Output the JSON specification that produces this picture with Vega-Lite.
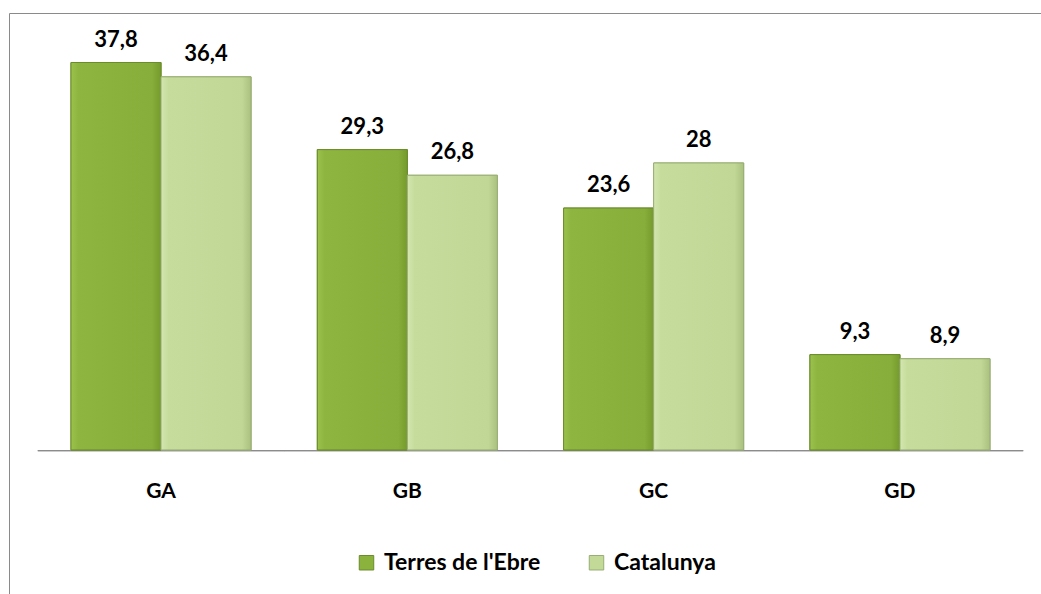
{
  "$schema": "https://vega.github.io/schema/vega-lite/v6.json",
  "autosize": "none",
  "padding": {"left": 9, "top": 13, "right": 0, "bottom": 0},
  "width": 1043,
  "height": 607,
  "background": "white",
  "config": {
    "view": {"stroke": "#8a8a8a", "strokeWidth": 1},
    "font": "Lato"
  },
  "data": {
    "values": [
      {"grup": "GA", "serie": "Terres de l'Ebre", "valor": 37.8, "etiqueta": "37,8"},
      {"grup": "GA", "serie": "Catalunya", "valor": 36.4, "etiqueta": "36,4"},
      {"grup": "GB", "serie": "Terres de l'Ebre", "valor": 29.3, "etiqueta": "29,3"},
      {"grup": "GB", "serie": "Catalunya", "valor": 26.8, "etiqueta": "26,8"},
      {"grup": "GC", "serie": "Terres de l'Ebre", "valor": 23.6, "etiqueta": "23,6"},
      {"grup": "GC", "serie": "Catalunya", "valor": 28, "etiqueta": "28"},
      {"grup": "GD", "serie": "Terres de l'Ebre", "valor": 9.3, "etiqueta": "9,3"},
      {"grup": "GD", "serie": "Catalunya", "valor": 8.9, "etiqueta": "8,9"}
    ]
  },
  "encoding": {
    "x": {
      "field": "grup", "type": "nominal",
      "scale": {"paddingInner": 0.269, "paddingOuter": 0.2517},
      "axis": {"orient": "bottom", "offset": -170, "domain": false, "ticks": false, "labelAngle": 0, "labelFontSize": 21, "labelFontWeight": "bold", "labelColor": "#000000", "labelPadding": 30, "title": null}
    },
    "y": {"field": "valor", "type": "quantitative", "scale": {"domain": [-16.59, 42.63], "nice": false, "zero": false}, "axis": null}
  },
  "layer": [
    {
      "mark": {"type": "bar", "color": "#8c8c8c", "width": {"band": 1.369}},
      "encoding": {
        "y": {"datum": 0, "type": "quantitative"},
        "y2": {"datum": -0.12}
      }
    },
    {
      "mark": {"type": "bar", "strokeWidth": 1},
      "encoding": {
        "xOffset": {"field": "serie", "type": "nominal", "sort": ["Terres de l'Ebre", "Catalunya"]},
        "y2": {"datum": 0},
        "color": {
          "field": "serie", "type": "nominal", "sort": ["Terres de l'Ebre", "Catalunya"],
          "scale": {"domain": ["Terres de l'Ebre", "Catalunya"], "range": ["#8ab23d", "#c3d998"]},
          "legend": {"orient": "none", "legendX": 346, "legendY": 538, "direction": "horizontal", "title": null, "symbolType": "square", "symbolSize": 210, "symbolStrokeWidth": 1, "labelFontSize": 23, "labelFontWeight": "bold", "labelColor": "#000000", "labelOffset": 6, "columnPadding": 44, "labelLimit": 300}
        },
        "stroke": {
          "field": "serie", "type": "nominal",
          "scale": {"domain": ["Terres de l'Ebre", "Catalunya"], "range": ["#6a8c2a", "#98ae74"]},
          "legend": null
        }
      }
    },
    {
      "mark": {"type": "bar", "strokeWidth": 1},
      "encoding": {
        "xOffset": {"field": "serie", "type": "nominal", "sort": ["Terres de l'Ebre", "Catalunya"]},
        "y2": {"datum": 0},
        "fill": {
          "condition": {"test": "datum.serie === 'Catalunya'", "value": {"gradient": "linear", "x1": 0, "y1": 0, "x2": 1, "y2": 0, "stops": [{"offset": 0, "color": "#d3e6b0"}, {"offset": 0.08, "color": "#c6dc9c"}, {"offset": 0.9, "color": "#c1d796"}, {"offset": 1, "color": "#a9c07f"}]}},
          "value": {"gradient": "linear", "x1": 0, "y1": 0, "x2": 1, "y2": 0, "stops": [{"offset": 0, "color": "#9cc24c"}, {"offset": 0.08, "color": "#8db53f"}, {"offset": 0.9, "color": "#87ae3a"}, {"offset": 1, "color": "#759a2e"}]}
        },
        "stroke": {
          "condition": {"test": "datum.serie === 'Catalunya'", "value": "#98ae74"},
          "value": "#6a8c2a"
        }
      }
    },
    {
      "mark": {"type": "text", "baseline": "alphabetic", "dy": -16, "fontSize": 22, "fontWeight": "bold", "color": "#000000"},
      "encoding": {
        "xOffset": {"field": "serie", "type": "nominal", "sort": ["Terres de l'Ebre", "Catalunya"]},
        "text": {"field": "etiqueta", "type": "nominal"}
      }
    }
  ]
}
